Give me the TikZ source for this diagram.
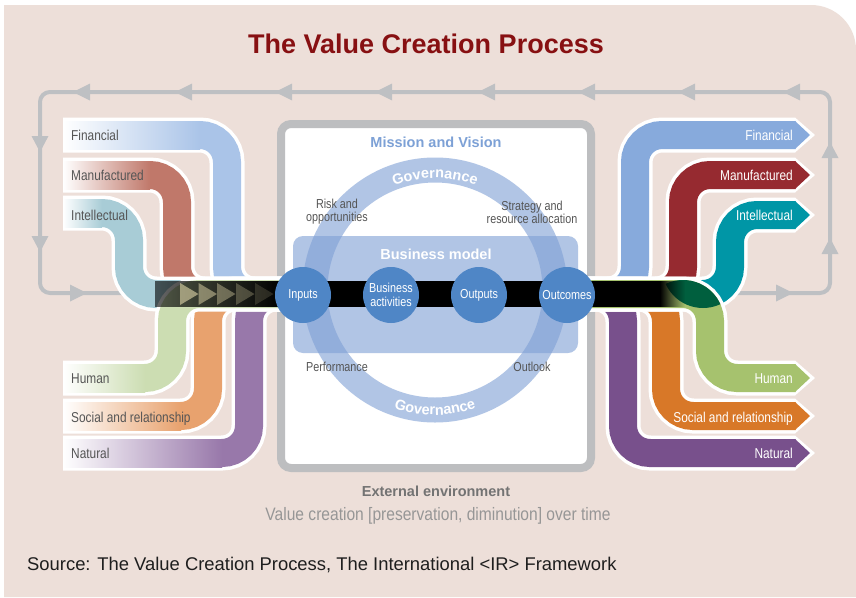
\documentclass[tikz,border=0pt]{standalone}
\usepackage{fontspec}
\setmainfont{Liberation Sans}
\newfontfamily\cond[FakeStretch=0.83]{Liberation Sans}
\newfontfamily\condw[FakeStretch=0.865]{Liberation Sans}
\usetikzlibrary{decorations.text,fadings}

\definecolor{bg}{RGB}{237,223,217}
\definecolor{loopc}{RGB}{190,192,195}
\definecolor{boxc}{RGB}{189,190,192}
\definecolor{ringc}{RGB}{126,159,213}
\definecolor{circc}{RGB}{79,134,198}
\definecolor{titlec}{RGB}{135,16,18}
\definecolor{missc}{RGB}{125,161,214}
\definecolor{labc}{RGB}{85,85,85}
\definecolor{extc}{RGB}{115,115,115}
\definecolor{valc}{RGB}{150,150,150}
\definecolor{srcc}{RGB}{30,30,30}
\definecolor{chevc}{RGB}{225,215,170}
\definecolor{lensc}{RGB}{0,95,62}
\definecolor{inFin}{RGB}{170,196,232}
\definecolor{inMan}{RGB}{192,120,106}
\definecolor{inInt}{RGB}{168,204,214}
\definecolor{inHum}{RGB}{204,221,178}
\definecolor{inSoc}{RGB}{232,162,110}
\definecolor{inNat}{RGB}{152,120,170}
\definecolor{outFin}{RGB}{135,170,220}
\definecolor{outMan}{RGB}{150,42,48}
\definecolor{outInt}{RGB}{0,150,166}
\definecolor{outHum}{RGB}{166,194,110}
\definecolor{outSoc}{RGB}{216,120,40}
\definecolor{outNat}{RGB}{120,80,140}

\tikzfading[name=fadeL, left color=transparent!40, right color=transparent!0]
\tikzfading[name=fadeR, left color=transparent!0, right color=transparent!100]

\newcommand\vcInFlow[3]{%
  \draw[flowW] (63,#2) -- (#3,#2) -- (#3,294) -- (292,294);
  \draw[flowC,#1] (63,#2) -- (#3,#2) -- (#3,294) -- (292,294);
  \shade[left color=white,right color=#1] (63,#2-14) rectangle (#3-27,#2+14);
}
\newcommand\vcOutFlow[3]{%
  \draw[flowW] (580,294) -- (#3,294) -- (#3,#2) -- (795,#2);
  \fill[white] (795,#2-17.5) -- (815,#2) -- (795,#2+17.5) -- cycle;
  \draw[flowC,#1] (580,294) -- (#3,294) -- (#3,#2) -- (795.5,#2);
  \fill[#1] (795,#2-14) -- (810,#2) -- (795,#2+14) -- cycle;
}

\begin{document}
\begin{tikzpicture}[x=1pt,y=-1pt,
  flowW/.style={white,line width=35,rounded corners=27},
  flowC/.style={line width=28,rounded corners=27},
  inlab/.style={anchor=base west,inner sep=0,text=labc,font=\cond\fontsize{14.3}{16}\selectfont},
  outlab/.style={anchor=base east,inner sep=0,text=white,font=\cond\fontsize{14.3}{16}\selectfont},
  small/.style={inner sep=0,text=labc,align=center,font=\cond\fontsize{13}{13}\selectfont},
  stage/.style={circle,fill=circc,minimum size=56,inner sep=0,text=white,align=center,font=\cond\fontsize{13}{13.5}\selectfont},
  looptip/.style={fill=loopc},
  gov/.style={decorate,decoration={text along path,text align=center,
    text={|\bfseries\fontsize{14.5}{16}\selectfont\color{white}|Governance}}}]
\useasboundingbox (0,0) rectangle (856,597);
\fill[white] (0,0) rectangle (856,597);
\fill[bg] (4,597) -- (4,5) -- (811,5) arc[start angle=-90,end angle=0,radius=45] -- (856,597) -- cycle;

% title
\node[anchor=base,inner sep=0,text=titlec,font=\bfseries\fontsize{27}{30}\selectfont] (title) at (426,53) {The Value Creation Process};

% gray feedback loop
\draw[loopc,line width=4,rounded corners=10] (730,293) -- (830,293) -- (830,92) -- (40,92) -- (40,293) -- (130,293);
\foreach \t in {73,175,275,375,478,578,678,783}
  \fill[looptip] (\t,92) -- (\t+17,83.5) -- (\t+17,100.5) -- cycle;
\foreach \t in {152,252}
  \fill[looptip] (40,\t) -- (31.5,\t-16) -- (48.5,\t-16) -- cycle;
\foreach \t in {142,238}
  \fill[looptip] (830,\t) -- (821.5,\t+16) -- (838.5,\t+16) -- cycle;
\fill[looptip] (87,293) -- (70,284.5) -- (70,301.5) -- cycle;
\fill[looptip] (793,293) -- (776,284.5) -- (776,301.5) -- cycle;

% central box
\draw[boxc,line width=8,fill=white,rounded corners=10] (281,124) rectangle (591,468);
\node[inner sep=0,text=missc,font=\bfseries\fontsize{14.5}{16}\selectfont] (mission) at (436,142) {Mission and Vision};
\fill[ringc,fill opacity=0.6,rounded corners=10] (293,236) rectangle (578,353);
\draw[ringc,draw opacity=0.6,line width=25] (435,290) circle[radius=120];
\path[gov] (435,290) ++(210:112) arc[start angle=210,end angle=330,radius=112];
\path[gov] (435,290) ++(150:125) arc[start angle=150,end angle=30,radius=125];
\node[inner sep=0,text=white,font=\bfseries\fontsize{14.5}{16}\selectfont] (bm) at (436,254) {Business model};
\node[small] (risk) at (337,212) {Risk and\\opportunities};
\node[small] (strat) at (532,212) {Strategy and\\resource allocation};
\node[small,anchor=base] (perf) at (337,371) {Performance};
\node[small,anchor=base] (outl) at (532,371) {Outlook};

% input flows
\vcInFlow{inFin}{135}{227}
\vcInFlow{inMan}{175}{177}
\vcInFlow{inInt}{213}{129}
\vcInFlow{inNat}{453}{249}
\vcInFlow{inSoc}{416}{208}
\vcInFlow{inHum}{378}{172}

% output flows
\vcOutFlow{outFin}{135}{635}
\vcOutFlow{outMan}{175}{683}
\vcOutFlow{outNat}{453}{623}
\vcOutFlow{outSoc}{416}{666}
\vcOutFlow{outInt}{215}{730}
\vcOutFlow{outHum}{378}{710}

% central band
\begin{scope}
  \clip (683,321) circle[radius=41];
  \clip (703,267) circle[radius=41];
  \fill[lensc] (640,279) rectangle (726,309);
\end{scope}
\fill[black,path fading=fadeL] (155,281) rectangle (282,307);
\fill[black] (281.5,281) rectangle (660.5,307);
\fill[black,path fading=fadeR] (660,281) rectangle (685,307);
\foreach \x/\o in {180/0.6,198.5/0.5,217/0.4,236/0.28,255/0.16}
  \fill[chevc,fill opacity=\o] (\x,283) -- (\x+18.5,294) -- (\x,305) -- cycle;

% stages
\node[stage] (inputs) at (303,295) {Inputs};
\node[stage] (activities) at (391,295) {Business\\activities};
\node[stage] (outputs) at (479,295) {Outputs};
\node[stage] (outcomes) at (567,295) {Outcomes};

% labels
\node[inlab] (lfin) at (71,140) {Financial};
\node[inlab] (lman) at (71,180) {Manufactured};
\node[inlab] (lint) at (71,220) {Intellectual};
\node[inlab] (lhum) at (71,383) {Human};
\node[inlab] (lsoc) at (71,422) {Social and relationship};
\node[inlab] (lnat) at (71,458) {Natural};
\node[outlab] (rfin) at (793,140) {Financial};
\node[outlab] (rman) at (793,180) {Manufactured};
\node[outlab] (rint) at (793,220) {Intellectual};
\node[outlab] (rhum) at (793,383) {Human};
\node[outlab] (rsoc) at (793,422) {Social and relationship};
\node[outlab] (rnat) at (793,458) {Natural};

% bottom texts
\node[anchor=base,inner sep=0,text=extc,font=\bfseries\fontsize{14.5}{16}\selectfont] (ext) at (436,496) {External environment};
\node[anchor=base,inner sep=0,text=valc,font=\condw\fontsize{18}{20}\selectfont] (val) at (438,520) {Value creation [preservation, diminution] over time};
\node[anchor=base west,inner sep=0,text=srcc,font=\fontsize{18.4}{20}\selectfont] (src) at (27,570) {Source: The Value Creation Process, The International <IR> Framework};
\end{tikzpicture}
\end{document}
